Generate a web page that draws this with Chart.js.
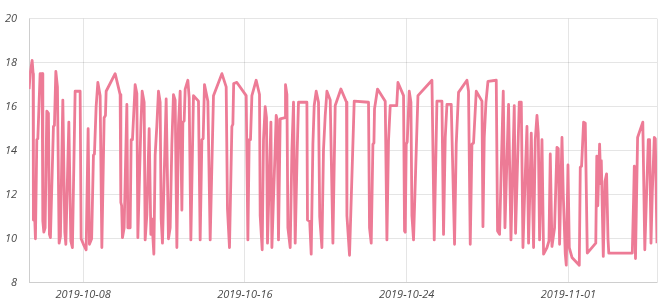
<!DOCTYPE html>
<html>
<head>
<meta charset="utf-8">
<script src="https://cdn.jsdelivr.net/npm/chart.js@4.4.1/dist/chart.umd.min.js"></script>
<style>
    html, body { margin: 0; padding: 0; background: #fff; }
    #wrap { width: 669px; height: 305px; }
</style>
</head>
<body>
<div id="wrap"><canvas id="lineChart"></canvas></div>
<script>
const year = 2019;

// reading times (month-day hour:minute, 2019)
const times = [
    '10-05 07:52','10-05 09:04','10-05 11:26','10-05 12:38','10-05 12:59','10-05 14:10','10-05 15:22','10-05 17:01','10-05 18:13','10-05 20:56','10-05 23:19',
    '10-06 00:09','10-06 01:20','10-06 02:52','10-06 04:53','10-06 06:47','10-06 07:59','10-06 09:10','10-06 12:44','10-06 13:55','10-06 15:35','10-06 17:29','10-06 19:30','10-06 21:02','10-06 23:53',
    '10-07 02:16','10-07 03:28','10-07 07:01','10-07 09:23','10-07 11:17','10-07 14:30','10-07 20:26','10-07 21:38',
    '10-08 00:21','10-08 03:34','10-08 05:56','10-08 07:29','10-08 10:05','10-08 12:14','10-08 13:25','10-08 15:26','10-08 17:28','10-08 20:11','10-08 22:13',
    '10-09 00:56','10-09 02:29','10-09 03:19','10-09 14:00','10-09 19:56','10-09 20:46','10-09 21:43','10-09 22:40',
    '10-10 00:41','10-10 03:54','10-10 05:05','10-10 07:49','10-10 09:00','10-10 10:33','10-10 13:45','10-10 15:46','10-10 16:58','10-10 20:31','10-10 22:04',
    '10-11 00:26','10-11 01:38','10-11 03:39','10-11 06:23','10-11 08:24','10-11 09:35','10-11 11:57','10-11 13:30','10-11 15:31','10-11 17:25','10-11 19:26','10-11 20:38','10-11 22:10',
    '10-12 02:34','10-12 05:17','10-12 07:19','10-12 09:20','10-12 11:14','10-12 13:15','10-12 15:16','10-12 17:10','10-12 19:11','10-12 21:13','10-12 22:24','10-12 23:56',
    '10-13 01:08','10-13 04:20','10-13 05:53','10-13 07:53','10-13 10:59','10-13 16:55','10-13 18:56','10-13 20:58','10-13 22:30',
    '10-14 00:03','10-14 04:05','10-14 06:49','10-14 10:44','10-14 20:43',
    '10-15 01:49','10-15 03:21','10-15 05:44','10-15 08:35','10-15 09:46','10-15 10:43','10-15 14:31',
    '10-16 01:34','10-16 03:35','10-16 05:08','10-16 06:40','10-16 08:20','10-16 13:26','10-16 17:22','10-16 18:11','10-16 20:34','10-16 22:07',
    '10-17 00:08','10-17 01:40','10-17 02:52','10-17 06:54','10-17 08:05','10-17 12:00','10-17 13:11','10-17 14:23','10-17 15:55','10-17 17:56','10-17 23:53',
    '10-18 00:14','10-18 01:54','10-18 03:05','10-18 05:49','10-18 07:50','10-18 09:44','10-18 11:45','10-18 14:08','10-18 15:40',
    '10-19 01:38','10-19 02:21','10-19 04:58','10-19 06:45','10-19 08:46','10-19 10:19','10-19 12:41','10-19 15:25','10-19 16:51','10-19 19:27','10-19 21:21','10-19 23:23',
    '10-20 01:24','10-20 05:19','10-20 08:31','10-20 11:15','10-20 18:01',
    '10-21 00:40','10-21 01:09','10-21 04:14','10-21 09:49',
    '10-22 02:47','10-22 03:59','10-22 06:00','10-22 08:01','10-22 09:13','10-22 09:55','10-22 13:29','10-22 22:38',
    '10-23 00:38','10-23 02:32','10-23 04:34','10-23 12:17','10-23 13:43','10-23 20:22','10-23 21:33','10-23 22:23','10-23 23:34',
    '10-24 00:45','10-24 03:08','10-24 05:08','10-24 06:20','10-24 08:14','10-24 11:26','10-24 13:28',
    '10-25 06:05','10-25 08:49','10-25 12:00','10-25 17:57','10-25 19:51','10-25 21:53','10-25 23:54',
    '10-26 05:00','10-26 08:55','10-26 10:56','10-26 13:40','10-26 23:38',
    '10-27 01:32','10-27 03:34','10-27 05:35','10-27 07:29','10-27 10:41','10-27 17:28','10-27 18:39','10-27 20:11','10-27 22:13',
    '10-28 00:35','10-28 10:26','10-28 11:59','10-28 14:22','10-28 18:45','10-28 20:46',
    '10-29 01:03','10-29 03:54','10-29 07:49','10-29 09:22','10-29 13:45','10-29 16:08','10-29 18:09','10-29 20:31','10-29 22:54',
    '10-30 00:48','10-30 04:00','10-30 06:44','10-30 08:45','10-30 10:46','10-30 12:19','10-30 13:52','10-30 16:43','10-30 18:37','10-30 22:39',
    '10-31 01:01','10-31 02:34','10-31 04:35','10-31 07:40','10-31 10:31','10-31 12:04','10-31 13:37','10-31 15:16','10-31 16:28','10-31 18:00','10-31 20:23','10-31 21:34','10-31 23:35',
    '11-01 01:08','11-01 04:20','11-01 13:00','11-01 14:11','11-01 15:44','11-01 18:07','11-01 20:08','11-01 22:30',
    '11-02 08:35','11-02 09:47','11-02 10:58','11-02 13:07','11-02 14:32','11-02 15:08','11-02 17:30','11-02 19:31','11-02 21:25','11-02 23:05',
    '11-03 00:02',
    '11-04 03:56','11-04 05:29','11-04 06:19','11-04 07:44','11-04 10:14','11-04 16:25','11-04 18:47','11-04 22:56',
    '11-05 00:29','11-05 02:09','11-05 03:41','11-05 06:04','11-05 07:15','11-05 09:16'
];

const temps = [
    16.8, 17.5, 18.1, 17.5, 10.85, 11.35, 10.0, 14.5, 14.55, 17.5, 17.5,
    10.8, 10.3, 10.5, 15.8, 15.7, 10.2, 10.05, 15.1, 15.15, 17.6, 16.9, 9.8, 10.1, 16.3,
    10.3, 9.75, 15.3, 9.9, 9.6, 16.7, 16.7, 10.0,
    9.75, 9.5, 15.0, 9.75, 10.0, 13.8, 13.85, 16.0, 17.1, 16.5, 9.6,
    15.5, 15.6, 16.7, 17.5, 16.55, 11.65, 11.5, 10.05,
    10.5, 16.1, 10.5, 10.5, 14.5, 14.5, 17.0, 16.6, 10.05, 15.1, 16.7,
    16.2, 9.95, 11.1, 15.0, 10.2, 10.9, 9.3, 13.8, 15.15, 16.7, 16.2, 10.9, 9.8,
    16.35, 10.0, 10.5, 14.3, 16.55, 16.3, 9.6, 15.15, 16.7, 11.3, 15.3, 15.35,
    16.8, 17.2, 16.4, 9.95, 16.5, 16.25, 9.95, 14.5, 14.55,
    17.0, 16.25, 9.95, 16.5, 17.5,
    16.9, 11.35, 9.6, 15.1, 15.2, 17.05, 17.1,
    16.5, 9.95, 14.5, 14.5, 16.5, 17.2, 16.55, 11.05, 9.5, 14.5,
    16.0, 15.5, 9.8, 15.3, 9.6, 14.15, 15.6, 15.4, 9.95, 15.45, 15.5,
    17.0, 16.55, 10.5, 9.6, 14.0, 16.2, 9.8, 14.0, 16.2,
    16.2, 10.85, 10.8, 9.3, 14.3, 16.05, 16.7, 16.2, 11.0, 9.6, 14.05, 15.6,
    16.7, 16.3, 9.8, 16.05, 16.8,
    16.2, 11.05, 9.25, 16.25,
    16.2, 10.5, 9.8, 14.3, 14.35, 15.9, 16.8, 16.25,
    9.95, 14.45, 16.05, 16.05, 17.1, 16.5, 10.35, 10.3, 14.3,
    14.4, 16.7, 16.2, 11.05, 9.95, 14.0, 16.5,
    17.2, 9.95, 16.25, 16.25, 10.2, 14.6, 16.1,
    16.1, 9.75, 14.3, 16.65, 17.2,
    16.7, 9.75, 14.3, 14.35, 16.7, 16.25, 10.55, 14.6, 16.2,
    17.15, 17.2, 10.35, 10.2, 16.7, 10.5,
    16.1, 9.95, 16.05, 10.25, 16.2, 16.2, 9.6, 12.5, 15.1,
    9.8, 14.8, 9.6, 14.5, 15.6, 14.8, 9.95, 14.5, 9.3, 9.6,
    9.9, 13.85, 9.65, 10.5, 14.15, 14.1, 9.75, 12.65, 14.6, 12.0, 9.3, 8.8, 13.35,
    9.6, 9.15, 8.8, 13.25, 13.3, 15.3, 15.25, 9.35,
    9.8, 13.75, 11.5, 14.3, 12.5, 13.55, 9.2, 12.6, 12.95, 10.0,
    9.35,
    9.35, 11.8, 13.3, 9.1, 14.6, 15.3, 9.5, 14.5,
    14.5, 9.8, 12.1, 14.6, 14.55, 9.8
];

const tickLabels = ['2019-10-08', '2019-10-16', '2019-10-24', '2019-11-01'];

function toMs(s) {
    // 'MM-DD HH:mm' -> ms (UTC)
    const m = +s.slice(0, 2), d = +s.slice(3, 5);
    const hh = +s.slice(6, 8), mm = +s.slice(9, 11);
    return Date.UTC(year, m - 1, d, hh, mm);
}
function dayMs(s) {
    const p = s.split('-');
    return Date.UTC(+p[0], +p[1] - 1, +p[2]);
}

const xs = times.map(toMs);
const tickMs = tickLabels.map(dayMs);
const points = xs.map((x, i) => ({ x: x, y: temps[i] }));

Chart.defaults.font.family = "'Open Sans', sans-serif";
Chart.defaults.font.style = 'italic';
Chart.defaults.font.size = 11;
Chart.defaults.color = '#4a4a4a';

const config = {
    type: 'line',
    data: {
        datasets: [
            {
                label: 'temperature',
                data: points,
                borderColor: 'rgb(237, 123, 150)',
                backgroundColor: 'rgb(237, 123, 150)',
                borderWidth: 2.8,
                borderJoinStyle: 'round',
                pointRadius: 0,
                tension: 0,
                fill: false,
            }
        ]
    },
    options: {
        responsive: true,
        maintainAspectRatio: false,
        animation: false,
        layout: {
            padding: { left: -7, right: 12, top: -4, bottom: -1 }
        },
        plugins: {
            legend: { display: false },
            tooltip: { enabled: false }
        },
        scales: {
            x: {
                type: 'linear',
                min: xs[0],
                max: xs[xs.length - 1],
                afterBuildTicks: (scale) => {
                    scale.ticks = [xs[0], ...tickMs, xs[xs.length - 1]].map(v => ({ value: v }));
                },
                ticks: {
                    autoSkip: false,
                    maxRotation: 0,
                    padding: 5,
                    callback: (value) => {
                        const i = tickMs.indexOf(value);
                        return i >= 0 ? tickLabels[i] : '';
                    }
                },
                grid: {
                    drawTicks: false,
                },
            },
            y: {
                min: 8,
                max: 20,
                ticks: {
                    stepSize: 2,
                    padding: 12,
                },
                grid: {
                    drawTicks: false,
                },
            }
        },
    }
};

new Chart(
    document.getElementById('lineChart'),
    config
);
</script>
</body>
</html>
